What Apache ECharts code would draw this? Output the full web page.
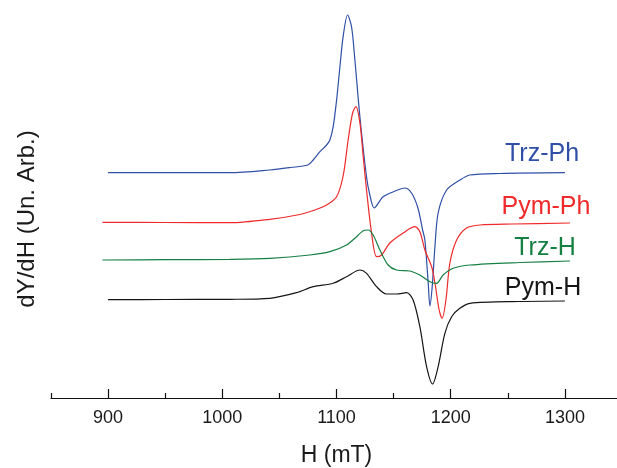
<!DOCTYPE html>
<html>
<head>
<meta charset="utf-8">
<script src="https://cdn.jsdelivr.net/npm/echarts@6/dist/echarts.min.js"></script>
<style>html,body{margin:0;padding:0;background:#fff}#c{width:617px;height:468px}</style>
</head>
<body>
<div id="c"></div>
<script>
// Field H (mT) and derivative signal (arbitrary units, offset per sample)
var trzPhH = [900, 940, 1006.6, 1041.6, 1060, 1074.9, 1079.6, 1085.5, 1091.3, 1094.2, 1097.1, 1100.1, 1103, 1105.8, 1109.7, 1113.2, 1116.1, 1120.5, 1126.3, 1129.2, 1133, 1140.6, 1149.4, 1159.9, 1165.7, 1171.3, 1175.4, 1177.4, 1180.3, 1181.8, 1183.8, 1186.2, 1189, 1196.4, 1208, 1216.8, 1243.1, 1300];
var trzPhY = [225.3, 225.3, 225.3, 228, 230.5, 233, 238, 246.3, 253, 258, 271.3, 298, 331.3, 361.3, 383, 371, 338, 281, 221, 203, 190, 201, 206, 210, 205, 190, 168, 158, 115, 92, 111.3, 151.3, 185, 208, 218, 223, 224.5, 225.3];

var pymPhH = [895.1, 950, 1006.6, 1041.6, 1067.9, 1081, 1091.3, 1100.1, 1105.8, 1110.2, 1114.1, 1117, 1120.5, 1123.4, 1126.3, 1130.7, 1135.1, 1139.5, 1146.7, 1158.4, 1168.6, 1173, 1177.4, 1183.3, 1186.2, 1189.9, 1192.5, 1195.8, 1199.3, 1205.2, 1213.9, 1225.6, 1254, 1304.4];
var pymPhY = [175.7, 175.5, 175.3, 178.7, 183.5, 188, 193, 201.3, 222, 258, 285, 291.3, 275, 241.3, 208, 165, 141.3, 143, 155, 165, 171.3, 166.3, 148, 131.3, 115, 88, 79.7, 98, 135, 158, 170, 173, 174, 175];

var trzHH = [895.1, 950, 1006.6, 1041.6, 1076.6, 1094.2, 1108.8, 1117.6, 1123.4, 1127.7, 1132.1, 1138, 1145.2, 1152.6, 1164.3, 1173, 1181.8, 1187.6, 1193.4, 1202.2, 1216.8, 1260.6, 1304.4];
var trzHY = [138, 138.3, 138.7, 139.7, 143, 146.3, 153, 161.3, 167.3, 168, 163, 148, 133, 128, 127, 123, 116.3, 114.7, 123, 129.7, 133, 135.5, 137];

var pymHH = [900, 950, 1006.6, 1041.6, 1065, 1079.6, 1097.1, 1108.8, 1120.5, 1126.3, 1135.1, 1143.8, 1152.6, 1161.4, 1167.1, 1173, 1178.9, 1184.1, 1189, 1194.9, 1200.8, 1208, 1216.8, 1260.6, 1300];
var pymHY = [98.3, 98.5, 98.7, 99.7, 105.3, 111.3, 114.7, 121.3, 128, 124.7, 111.3, 104, 104, 105.3, 98, 71.3, 31.3, 14, 31.3, 64.7, 81.3, 89.7, 94.7, 96.5, 97];

var seriesNames = ['Trz-Ph', 'Pym-Ph', 'Trz-H', 'Pym-H'];
var seriesColors = ['#2f4fa6', '#f02a2a', '#168043', '#151515'];
var majorTicks = [900, 1000, 1100, 1200, 1300];

function zip(a, b) { return a.map(function (v, i) { return [v, b[i]]; }); }
var allData = [zip(trzPhH, trzPhY), zip(pymPhH, pymPhY), zip(trzHH, trzHY), zip(pymHH, pymHY)];

var chart = echarts.init(document.getElementById('c'), null, { renderer: 'canvas' });
var FONT = 'Liberation Sans, Arial, sans-serif';

var labelPos = [[542, 154], [546, 207], [545, 248], [543, 288]];

chart.setOption({
  animation: false,
  backgroundColor: '#fff',
  grid: { left: 51, top: 40, width: 571, height: 358, containLabel: false, outerBoundsMode: 'none' },
  xAxis: [{
    type: 'value', min: 850, max: 1350, position: 'bottom',
    axisLine: { show: true, lineStyle: { color: '#111', width: 1.2 } },
    axisTick: { show: true, inside: true, length: 9, customValues: majorTicks, lineStyle: { color: '#111', width: 1.2 } },
    axisLabel: { show: true, customValues: majorTicks, margin: 11, fontSize: 18, color: '#1a1a1a', fontFamily: FONT,
      formatter: function (v) { return String(v); } },
    splitLine: { show: false },
    name: 'H (mT)', nameLocation: 'middle', nameGap: 46,
    nameTextStyle: { fontSize: 23, color: '#1a1a1a', fontFamily: FONT }
  }, {
    type: 'value', min: 850, max: 1350, interval: 100, position: 'bottom',
    axisLine: { show: false },
    axisTick: { show: true, inside: true, length: 5, lineStyle: { color: '#111', width: 1.2 } },
    axisLabel: { show: false },
    splitLine: { show: false }
  }],
  yAxis: {
    type: 'value', min: 0, max: 358,
    axisLine: { show: false }, axisTick: { show: false }, axisLabel: { show: false }, splitLine: { show: false },
    name: 'dY/dH (Un. Arb.)', nameLocation: 'middle', nameGap: 12,
    nameTextStyle: { fontSize: 24, color: '#1a1a1a', fontFamily: FONT }
  },
  series: allData.map(function (d, i) {
    return {
      type: 'line', name: seriesNames[i], data: d, smooth: 0.3, showSymbol: false, clip: false,
      lineStyle: { color: seriesColors[i], width: 1.2 }, itemStyle: { color: seriesColors[i] }
    };
  }),
  graphic: seriesNames.map(function (n, i) {
    return {
      type: 'text', x: labelPos[i][0], y: labelPos[i][1],
      style: { text: n, fill: seriesColors[i], font: '25px ' + FONT, align: 'center', verticalAlign: 'middle' }
    };
  })
});
</script>
</body>
</html>
